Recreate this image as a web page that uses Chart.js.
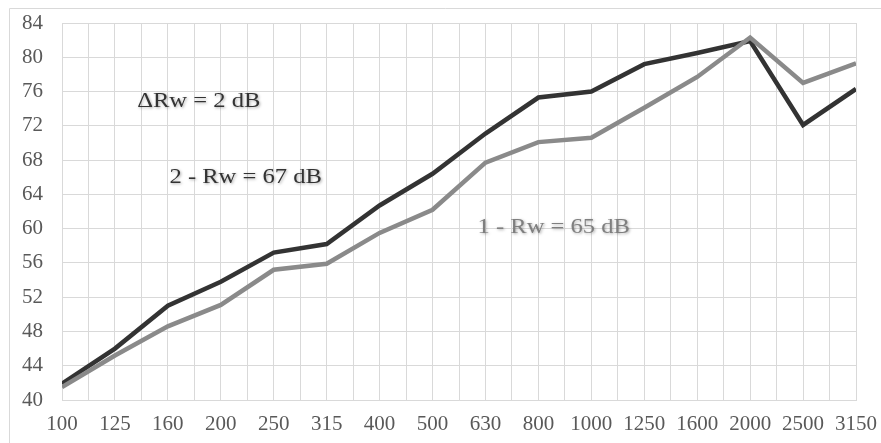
<!DOCTYPE html>
<html>
<head>
<meta charset="utf-8">
<script src="https://cdn.jsdelivr.net/npm/chart.js@4/dist/chart.umd.min.js"></script>
<style>
  html, body { margin: 0; padding: 0; background: #fff; }
  #wrap { width: 881px; height: 443px; position: relative; }
</style>
</head>
<body>
<div id="wrap"><canvas id="lineChart"></canvas></div>
<script>
// third-octave bands, Hz
const bands = ['100', '125', '160', '200', '250', '315', '400', '500', '630', '800', '1000', '1250', '1600', '2000', '2500', '3150'];
// sample 1 (Rw = 65 dB)
const sample1 = [41.5, 45.2, 48.6, 51.1, 55.2, 55.9, 59.5, 62.2, 67.7, 70.1, 70.6, 74.1, 77.7, 82.3, 77.0, 79.3];
// sample 2 (Rw = 67 dB)
const sample2 = [41.9, 46.0, 51.0, 53.8, 57.2, 58.2, 62.7, 66.4, 71.1, 75.3, 76.0, 79.2, 80.5, 81.9, 72.1, 76.3];
const yTicks = [40, 44, 48, 52, 56, 60, 64, 68, 72, 76, 80, 84];

const notes = [
  { text: '\u0394Rw = 2 dB', x: 1.42, y: 74.8, color: '#333333' },
  { text: '2 - Rw = 67 dB', x: 2.03, y: 66.0, color: '#333333' },
  { text: '1 - Rw = 65 dB', x: 7.85, y: 60.1, color: '#7f7f7f' },
];

const frame = {
  id: 'frame',
  beforeDraw(chart) {
    const ctx = chart.ctx;
    ctx.save();
    ctx.strokeStyle = '#d9d9d9';
    ctx.lineWidth = 1;
    ctx.beginPath();
    ctx.moveTo(9.5, chart.height);
    ctx.lineTo(9.5, 8.5);
    ctx.lineTo(chart.width, 8.5);
    ctx.stroke();
    ctx.restore();
  },
};

// text notes, slightly widened serif with a soft shadow
const labels = {
  id: 'labels',
  afterDatasetsDraw(chart) {
    const ctx = chart.ctx;
    const xs = chart.scales.x, ys = chart.scales.y;
    const stretch = 1.17;
    notes.forEach(n => {
      ctx.save();
      ctx.translate(xs.getPixelForValue(n.x), ys.getPixelForValue(n.y));
      ctx.scale(stretch, 1);
      ctx.font = '21px "Liberation Serif", "Times New Roman", serif';
      ctx.textAlign = 'left';
      ctx.textBaseline = 'middle';
      ctx.shadowColor = 'rgba(0,0,0,0.35)';
      ctx.shadowBlur = 3;
      ctx.shadowOffsetX = 1;
      ctx.shadowOffsetY = 1;
      ctx.fillStyle = n.color;
      ctx.fillText(n.text, 0, 0);
      ctx.restore();
    });
  },
};

const tickFont = { family: '"Liberation Serif", "Times New Roman", serif', size: 21 };

new Chart(document.getElementById('lineChart'), {
  type: 'line',
  data: {
    datasets: [
      {
        label: '1',
        data: sample1.map((v, i) => ({ x: i, y: v })),
        borderColor: '#8a8a8a',
        borderWidth: 4.5,
        pointRadius: 0,
        tension: 0,
      },
      {
        label: '2',
        data: sample2.map((v, i) => ({ x: i, y: v })),
        borderColor: '#333333',
        borderWidth: 4.5,
        pointRadius: 0,
        tension: 0,
      },
    ],
  },
  options: {
    responsive: true,
    maintainAspectRatio: false,
    animation: false,
    layout: { padding: { top: 23, right: 25, left: 0, bottom: 0 } },
    plugins: { legend: { display: false }, tooltip: { enabled: false } },
    scales: {
      x: {
        type: 'linear',
        min: 0,
        max: bands.length - 1,
        afterFit: s => { s.height = 43; s.paddingLeft = 0; s.paddingRight = 0; },
        grid: { color: '#d9d9d9', drawTicks: false },
        border: { color: '#d9d9d9' },
        ticks: {
          stepSize: 0.5,
          autoSkip: false,
          maxRotation: 0,
          padding: 12,
          color: '#595959',
          font: tickFont,
          callback: v => (Number.isInteger(v) ? bands[v] : ''),
        },
      },
      y: {
        min: yTicks[0],
        max: yTicks[yTicks.length - 1],
        afterFit: s => { s.width = 62; s.paddingTop = 0; s.paddingBottom = 0; },
        afterBuildTicks: s => { s.ticks = yTicks.map(v => ({ value: v })); },
        grid: { color: '#d9d9d9', drawTicks: false },
        border: { color: '#d9d9d9' },
        ticks: { padding: 19, color: '#595959', font: tickFont },
      },
    },
  },
  plugins: [frame, labels],
});
</script>
</body>
</html>
